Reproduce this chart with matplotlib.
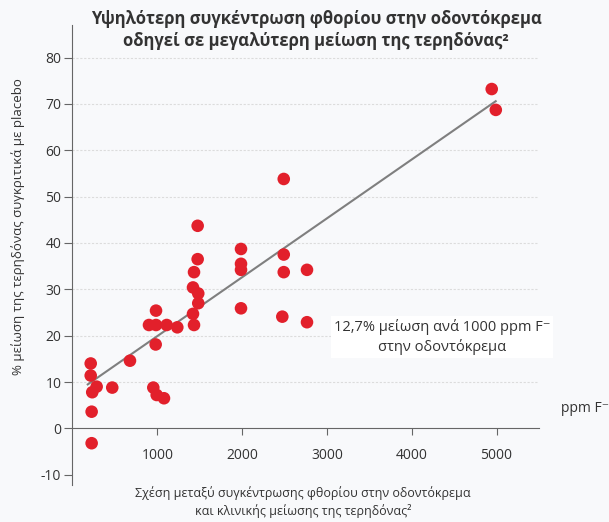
import numpy as np
import matplotlib.pyplot as plt

plt.rcParams['font.family'] = ['Open Sans', 'DejaVu Sans']
plt.rcParams['axes.unicode_minus'] = False

# ppm F- στην οδοντόκρεμα
ppm = [215, 215, 285, 233, 226, 226, 469, 678, 981, 953, 993, 1079,
       902, 985, 1111, 1236, 985, 1433, 1421, 1421, 1483, 1483, 1433,
       1476, 1476, 1987, 1987, 1987, 1987, 2491, 2491, 2491, 2474,
       2765, 2765, 4943, 4991]
# % μείωση τερηδόνας
reduction = [14.0, 11.4, 9.0, 7.8, 3.6, -3.2, 8.8, 14.6, 18.1, 8.8, 7.2, 6.5,
             22.3, 22.3, 22.3, 21.8, 25.4, 22.3, 24.7, 30.4, 29.1, 27.0, 33.7,
             36.5, 43.7, 38.7, 35.5, 34.2, 25.9, 53.8, 37.5, 33.7, 24.1,
             34.2, 22.9, 73.2, 68.7]
slope = 12.7 / 1000   # 12,7% ανά 1000 ppm
intercept = 7.2
line_x = np.array([180, 4990])

yticks = [-10, 0, 10, 20, 30, 40, 50, 60, 70, 80]
xticks = [1000, 2000, 3000, 4000, 5000]

bg = '#f8f9fb'
fig = plt.figure(figsize=(6.09, 5.22), dpi=100, facecolor=bg)
ax = fig.add_axes([0.119, 0.071, 0.766, 0.881])
ax.set_facecolor(bg)

ax.set_xlim(0, 5500)
ax.set_ylim(-12.2, 87)

# πλέγμα
for g in range(10, 90, 10):
    ax.plot([0, 5500], [g, g], color='#dcdcdc', lw=0.8, ls=(0, (2, 1.5)), zorder=1)

ax.plot(line_x, intercept + slope * line_x, color='#7f7f7f', lw=1.5, zorder=2)
ax.scatter(ppm, reduction, s=82, color='#e2202b', edgecolors='none', zorder=3)

for s in ['top', 'right']:
    ax.spines[s].set_visible(False)
ax.spines['bottom'].set_position(('data', 0))
ax.spines['bottom'].set_color('#666666')
ax.spines['left'].set_color('#666666')
ax.set_xticks(xticks)
ax.set_yticks(yticks)
ax.tick_params(axis='x', length=5, color='#666666', pad=9, labelsize=10, labelcolor='#333333')
ax.tick_params(axis='y', length=6, color='#666666', pad=2, labelsize=10, labelcolor='#333333')

fig.text(0.519, 1 - 30 / 522, 'Υψηλότερη συγκέντρωση φθορίου στην οδοντόκρεμα\nοδηγεί σε μεγαλύτερη μείωση της τερηδόνας²',
         ha='center', va='center', fontsize=12, fontweight='bold', color='#333333', linespacing=1.3)
fig.text(0.03, 1 - 227 / 522, '% μείωση της τερηδόνας συγκριτικά με placebo', rotation=90,
         ha='center', va='center', fontsize=9.5, color='#333333')
fig.text(0.498, 1 - 502 / 522, 'Σχέση μεταξύ συγκέντρωσης φθορίου στην οδοντόκρεμα\nκαι κλινικής μείωσης της τερηδόνας²',
         ha='center', va='center', fontsize=9, color='#333333', linespacing=1.35)
fig.text(0.922, 1 - 408 / 522, 'ppm F⁻', ha='left', va='center', fontsize=10, color='#333333')
fig.text(0.726, 1 - 337 / 522, '12,7% μείωση ανά 1000 ppm F⁻\nστην οδοντόκρεμα', ha='center', va='center',
         fontsize=10.5, color='#333333', linespacing=1.3,
         bbox=dict(facecolor='white', edgecolor='none', pad=2))

fig.savefig('out.png', dpi=100, facecolor=bg)
